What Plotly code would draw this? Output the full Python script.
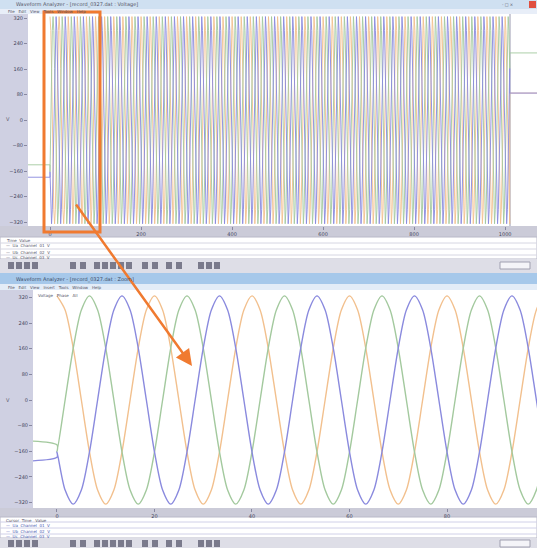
import plotly.graph_objects as go

# ---------------- data ----------------
phase_names = ["Ua", "Ub", "Uc"]
phase_colors = ["#f2c08e", "#a3c99e", "#8a8ade"]
# one period of each phase voltage, 12 samples per period (V)
cycle_shape = [325, 281, 162, 0, -162, -281, -325, -281, -162, 0, 162, 281]
period_ms = 20.0
phase_peak_ms = [0.0, 6.667, 13.333]      # time of first peak of each phase
n_cycles = 51
wave_end_ms = 1011.0
pre_start_level = [None, -140, -179]     # constant level before energising
hold_level = [85, 211, 85]               # level shown after the record end
view_end_ms = 1070.0
top_xrange = [-48.4, 1070.0]
low_xrange = [-4.92, 98.46]
top_xticks = [0, 200, 400, 600, 800, 1000]
low_xticks = [0, 20, 40, 60, 80]
yticks = [-320, -240, -160, -80, 0, 80, 160, 240, 320]

W, H = 537, 548


def build_phase(i):
    n = len(cycle_shape)
    step = period_ms / n
    ts, vs = [], []
    if pre_start_level[i] is not None:
        ts += [top_xrange[0], 0.0]
        vs += [pre_start_level[i], pre_start_level[i]]
    for k in range(-n, n_cycles * n + n):
        t = phase_peak_ms[i] + k * step
        if -0.01 <= t <= wave_end_ms:
            ts.append(round(t, 3))
            vs.append(cycle_shape[k % n])
    ts += [ts[-1], view_end_ms]
    vs += [hold_level[i], hold_level[i]]
    return ts, vs


fig = go.Figure()
for i in range(3):
    ts, vs = build_phase(i)
    fig.add_trace(go.Scatter(x=ts, y=vs, mode="lines", xaxis="x", yaxis="y",
                             line=dict(color=phase_colors[i], width=1), opacity=0.9,
                             name=phase_names[i], hoverinfo="skip", showlegend=False))
for i in range(3):
    ts, vs = build_phase(i)
    fig.add_trace(go.Scatter(x=ts, y=vs, mode="lines", xaxis="x2", yaxis="y2",
                             line=dict(color=phase_colors[i], width=1.4, shape="spline", smoothing=0.8),
                             name=phase_names[i], hoverinfo="skip", showlegend=False))


def px(x):
    return x / W


def py(y):
    return 1 - y / H


shapes = []


def rect(x0, y0, x1, y1, fill, line=None, layer="below", lw=0):
    shapes.append(dict(type="rect", xref="paper", yref="paper",
                       x0=px(x0), x1=px(x1), y0=py(y1), y1=py(y0),
                       fillcolor=fill, layer=layer,
                       line=dict(color=line or fill, width=lw)))


def hline(x0, x1, y, color, w=1, layer="below"):
    shapes.append(dict(type="line", xref="paper", yref="paper",
                       x0=px(x0), x1=px(x1), y0=py(y), y1=py(y),
                       line=dict(color=color, width=w), layer=layer))


def vline(x, y0, y1, color, w=1, layer="below"):
    shapes.append(dict(type="line", xref="paper", yref="paper",
                       x0=px(x), x1=px(x), y0=py(y0), y1=py(y1),
                       line=dict(color=color, width=w), layer=layer))


# ---- upper window chrome ----
rect(0, 0, W, 9, "#cfe0f1")
rect(0, 9, W, 14, "#e8eef8")
rect(0, 14, 28, 237, "#cfd0e2")
rect(28, 14, W, 226, "#ffffff")
vline(510, 14, 226, "#9a9ab0")
rect(0, 226, W, 237, "#cbcbd8")
rect(0, 237, W, 259, "#ffffff", line="#b8b8c8", lw=1)
for yy in (243, 249, 255):
    hline(0, W, yy, "#d6d6e2")
rect(0, 259, W, 273, "#dedee7")
rect(529, 1, 536, 8, "#e05040")
# ---- lower window chrome ----
rect(0, 273, W, 284, "#a6c8ea")
rect(0, 284, W, 290, "#e3ecf7")
rect(0, 290, 33, 517, "#cfd0e2")
rect(33, 290, W, 508, "#ffffff")
rect(0, 508, W, 517, "#cbcbd8")
rect(0, 517, W, 538, "#ffffff", line="#b8b8c8", lw=1)
for yy in (522, 528, 534):
    hline(0, W, yy, "#d0d0e8")
rect(0, 538, W, H, "#dedee7")

# toolbar icons
icon_x = [8, 16, 24, 32, 70, 80, 94, 102, 110, 118, 126, 142, 152, 166, 176, 198, 206, 214]
for x in icon_x:
    rect(x, 262, x + 6, 269, "#7a7a8c")
    rect(x, 540, x + 6, 547, "#7a7a8c")
rect(500, 262, 530, 269, "#f4f4f8", line="#a0a0b0", lw=1)
rect(500, 540, 530, 547, "#f4f4f8", line="#a0a0b0", lw=1)

# orange highlight rectangle and arrow (drawn over the traces)
shapes.append(dict(type="rect", xref="paper", yref="paper",
                   x0=px(44), x1=px(100), y0=py(232), y1=py(12),
                   line=dict(color="#f07a30", width=3), layer="above"))

annotations = [
    dict(x=px(192), y=py(366), xref="paper", yref="paper", ax=75 - 192, ay=203 - 366,
         axref="pixel", ayref="pixel", showarrow=True, arrowhead=2, arrowsize=1.3,
         arrowwidth=2.5, arrowcolor="#f07a30", text=""),
]


def label(x, y, text, size=5, color="#555566", anchor="left"):
    annotations.append(dict(x=px(x), y=py(y), xref="paper", yref="paper", text=text,
                            showarrow=False, xanchor=anchor, yanchor="middle",
                            font=dict(size=size, color=color, family="DejaVu Sans")))


label(14, 4.5, "Waveform Analyzer - [record_0327.dat : Voltage]")
label(6, 11.5, "File   Edit   View   Tools   Window   Help", size=4)
label(500, 4.5, "- □ ×", size=4)
label(4, 240, "Time  Value", size=4)
for k, yy in enumerate((246, 252, 257)):
    label(4, yy, "—  " + phase_names[k] + "  Channel  0%d  V" % (k + 1), size=4)
label(14, 279, "Waveform Analyzer - [record_0327.dat : Zoom]", color="#3a4a66")
label(6, 287, "File   Edit   View   Insert   Tools   Window   Help", size=4)
label(36, 295, "Voltage   Phase   All", size=4)
label(4, 520, "Cursor  Time   Value", size=4)
for k, yy in enumerate((525, 531, 536)):
    label(4, yy, "—  " + phase_names[k] + "  Channel  0%d  V" % (k + 1), size=4, color="#4a5ab0")
label(4, 14 + 105, "V", size=5)
label(4, 400, "V", size=5)

tickfont = dict(size=5, color="#44445a", family="DejaVu Sans")
fig.update_layout(
    width=W, height=H,
    margin=dict(l=0, r=0, t=0, b=0),
    paper_bgcolor="#ffffff",
    plot_bgcolor="rgba(0,0,0,0)",
    shapes=shapes,
    annotations=annotations,
    xaxis=dict(domain=[px(28), 1.0], range=top_xrange, anchor="y",
               tickvals=top_xticks, tickfont=tickfont, ticks="outside", ticklen=3,
               tickcolor="#8888a0", showgrid=False, zeroline=False, showline=False),
    yaxis=dict(domain=[py(226), py(15)], range=[-332, 330], anchor="x",
               tickvals=yticks, tickfont=tickfont, ticks="outside", ticklen=3,
               tickcolor="#8888a0", showgrid=False, zeroline=False, showline=False),
    xaxis2=dict(domain=[px(33), 1.0], range=low_xrange, anchor="y2",
                tickvals=low_xticks, tickfont=tickfont, ticks="outside", ticklen=3,
                tickcolor="#8888a0", showgrid=False, zeroline=False, showline=False),
    yaxis2=dict(domain=[py(508), py(292)], range=[-337, 337], anchor="x2",
                tickvals=yticks, tickfont=tickfont, ticks="outside", ticklen=3,
                tickcolor="#8888a0", showgrid=False, zeroline=False, showline=False),
)

fig.write_html("out.html", config={"displayModeBar": False, "staticPlot": True},
               post_script="document.body.style.margin='0';document.body.style.overflow='hidden';")
